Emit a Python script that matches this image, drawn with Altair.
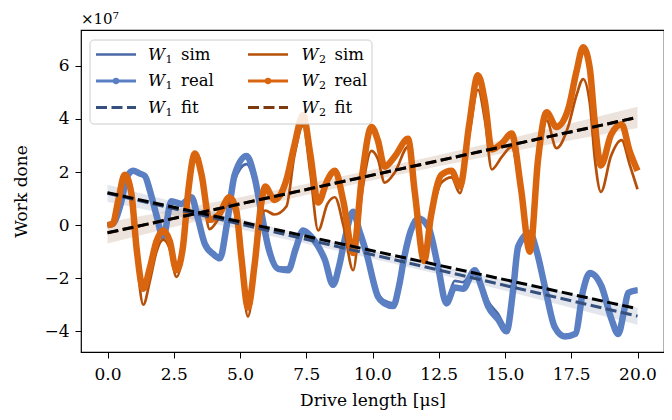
import altair as alt
import pandas as pd

# ---------------- data (work done in units of 1e7) ----------------
w1_x = [0.0, 0.2, 0.5, 0.75, 0.97, 1.2, 1.41, 1.6, 1.84, 2.1, 2.41, 2.79, 3.17, 3.4, 3.67,
        4.0, 4.24, 4.5, 4.8, 5.25, 5.55, 5.81, 6.06, 6.44, 6.82, 7.1, 7.38, 7.7, 7.95, 8.2,
        8.51, 8.75, 8.95, 9.27, 9.5, 9.77, 10.21, 10.46, 10.78, 11.0, 11.2, 11.45, 11.72, 12.1,
        12.47, 12.79, 13.1, 13.42, 13.86, 14.1, 14.36, 14.74, 15.06, 15.3, 15.5, 15.94, 16.2,
        16.5, 16.88, 17.26, 17.65, 17.95, 18.2, 18.64, 19.02, 19.27, 19.5, 19.65, 20.0]
w1_real = [0.0, 0.05, 0.8, 1.85, 2.05, 1.95, 1.85, 1.3, 0.4, -0.45, 0.9, 0.8, 1.05, 0.3, -0.7,
           -1.1, -1.25, 0.0, 1.9, 2.6, 1.8, 0.45, -0.8, -1.65, -1.7, -0.9, -0.2, -0.45, -0.8, -1.3,
           -2.25, -1.5, -0.55, 0.5, -0.2, -1.05, -2.7, -2.95, -3.05, -2.3, -1.2, -0.2, 0.25, -0.05,
           -1.55, -2.95, -2.35, -2.4, -1.7, -2.3, -3.05, -3.55, -4.0, -2.5, -0.8, -0.3, -1.0,
           -2.3, -3.85, -4.2, -4.1, -2.45, -1.8, -2.3, -3.55, -4.1, -3.2, -2.55, -2.45]
w1_sim = [0.0, 0.05, 0.78, 1.8, 2.0, 1.9, 1.8, 1.25, 0.4, -0.4, 0.85, 0.75, 1.0, 0.3, -0.65,
          -1.05, -1.2, -0.05, 1.7, 2.3, 1.6, 0.35, -0.8, -1.6, -1.6, -0.85, -0.2, -0.45, -0.8, -1.3,
          -2.2, -1.45, -0.55, 0.45, -0.2, -1.0, -2.6, -2.85, -2.95, -2.2, -1.15, -0.2, 0.2, -0.05,
          -1.5, -2.85, -2.1, -2.15, -1.65, -2.15, -2.85, -3.35, -3.85, -2.45, -0.8, -0.3, -1.0,
          -2.3, -3.8, -4.15, -4.05, -2.45, -1.8, -2.3, -3.5, -4.05, -3.15, -2.55, -2.4]

w2_x = [0.0, 0.2, 0.4, 0.65, 0.9, 1.1, 1.35, 1.6, 1.85, 2.1, 2.35, 2.6, 2.85, 3.05, 3.3, 3.55,
        3.85, 4.2, 4.6, 4.85, 5.05, 5.3, 5.55, 5.8, 5.95, 6.3, 6.75, 7.05, 7.38, 7.65, 7.95, 8.3,
        8.58, 8.9, 9.27, 9.6, 9.96, 10.2, 10.46, 10.85, 11.34, 11.6, 11.95, 12.2, 12.6, 12.98,
        13.3, 13.65, 13.98, 14.25, 14.5, 14.9, 15.25, 15.6, 15.94, 16.25, 16.57, 16.94, 17.38,
        17.7, 17.95, 18.2, 18.39, 18.62, 19.0, 19.4, 19.7, 20.0]
w2_real = [0.0, 0.05, 0.9, 1.9, 1.2, -0.9, -2.4, -1.6, -0.6, -0.2, -0.6, -1.7, -0.8, 1.3, 2.7, 1.9,
           0.2, 0.4, 1.05, 0.6, -1.2, -3.1, -1.5, 0.8, 1.45, 0.95, 1.7, 3.0, 4.15, 2.7, 0.85, 1.7,
           2.05, 0.9, -1.05, 1.8, 3.7, 3.2, 2.2, 2.6, 3.25, 1.2, -1.35, 0.3, 1.9, 2.05,
           1.45, 3.8, 5.65, 4.6, 2.85, 3.1, 3.45, 1.4, -1.0, 2.5, 4.25, 3.7, 4.35,
           5.8, 6.7, 5.9, 3.85, 2.25, 3.4, 3.8, 2.8, 2.05]
w2_sim = [0.0, 0.05, 0.85, 1.85, 1.0, -1.2, -3.0, -2.1, -1.0, -0.55, -0.9, -1.95, -1.0, 1.2, 2.65, 1.7,
          -0.15, 0.25, 0.85, 0.3, -1.5, -3.45, -1.8, 0.3, 0.55, 0.4, 0.7, 2.6, 3.75, 2.0, -0.2, 0.8,
          1.05, 0.0, -1.7, 1.2, 2.8, 2.5, 1.6, 2.0, 2.95, 1.0, -1.2, 0.2, 1.6, 1.8,
          1.2, 3.4, 5.1, 3.9, 2.1, 2.6, 2.95, 1.2, -0.7, 2.2, 3.95, 2.9, 3.7,
          4.9, 5.5, 4.6, 2.5, 1.25, 2.6, 3.2, 2.3, 1.35]

fit_x = [0.0, 20.0]
w1_fit = [1.2, -3.43]
w1_fit_black = [1.22, -3.15]
w2_fit = [-0.29, 4.06]
w2_fit_black = [-0.29, 4.06]

band_x = [0.0, 2.5, 5.0, 7.5, 10.0, 12.5, 15.0, 17.5, 20.0]
w1_lo = [0.88, 0.36, -0.16, -0.70, -1.27, -1.85, -2.47, -3.11, -3.75]
w1_hi = [1.52, 0.88, 0.24, -0.38, -0.97, -1.53, -2.07, -2.59, -3.11]
w2_lo = [-0.69, -0.07, 0.55, 1.13, 1.69, 2.22, 2.72, 3.20, 3.66]
w2_hi = [0.11, 0.57, 1.05, 1.55, 2.09, 2.64, 3.22, 3.84, 4.46]

x_ticks = [0.0, 2.5, 5.0, 7.5, 10.0, 12.5, 15.0, 17.5, 20.0]
y_ticks = [-4, -2, 0, 2, 4, 6]

legend_names = ["sim", "real", "fit"]

# ---------------- styling ----------------
FONT = "DejaVu Serif"
C_W1_SIM = "#4a68a6"
C_W1_REAL = "#5a7fc3"
C_W1_FIT = "#36507e"
C_W2_SIM = "#b65009"
C_W2_REAL = "#d9650f"
C_W2_FIT = "#7c3a0e"
DASH = [11, 4.5]

xs = alt.Scale(domain=[-1, 21], nice=False, zero=False)
ys = alt.Scale(domain=[-4.78, 7.35], nice=False, zero=False)
xaxis = alt.Axis(values=x_ticks, format=".1f", title="Drive length [μs]", grid=False,
                 domain=False, tickColor="black", tickSize=6, tickWidth=1,
                 labelPadding=8, titlePadding=10)
yaxis = alt.Axis(values=y_ticks, format="d", title="Work done", grid=False,
                 domain=False, tickColor="black", tickSize=6, tickWidth=1,
                 labelPadding=6, titlePadding=13,
                 labelExpr="replace(datum.label, '-', '\u2212')")
X = alt.X("x:Q", scale=xs, axis=xaxis)


def Y(field):
    return alt.Y(f"{field}:Q", scale=ys, axis=yaxis)


def curve(xv, yv, color, width, dash=None):
    df = pd.DataFrame({"x": xv, "y": yv})
    kw = dict(color=color, strokeWidth=width, interpolate="monotone", clip=True)
    if dash:
        kw["strokeDash"] = dash
    return alt.Chart(df).mark_line(**kw).encode(x=X, y=Y("y"))


def band(lo, hi, color):
    df = pd.DataFrame({"x": band_x, "lo": lo, "hi": hi})
    return alt.Chart(df).mark_area(color=color, opacity=0.14).encode(
        x=X, y=Y("lo"), y2="hi")


layers = [
    band(w1_lo, w1_hi, C_W1_FIT),
    band(w2_lo, w2_hi, C_W2_FIT),
    curve(w1_x, w1_sim, C_W1_SIM, 2.7),
    curve(w1_x, w1_real, C_W1_REAL, 6.5),
    curve(w2_x, w2_sim, C_W2_SIM, 2.7),
    curve(w2_x, w2_real, C_W2_REAL, 6.5),
    curve(fit_x, w1_fit, C_W1_FIT, 3, DASH),
    curve(fit_x, w2_fit, C_W2_FIT, 3, DASH),
    curve(fit_x, w1_fit_black, "black", 3, DASH),
    curve(fit_x, w2_fit_black, "black", 3, DASH),
]

one = alt.Data(values=[{"k": 0}])

# legend box
layers.append(alt.Chart(one).mark_rect(fill="white", fillOpacity=0.85, stroke="#cccccc",
                                       strokeWidth=1, cornerRadius=4).encode(
    x=alt.value(9), x2=alt.value(291), y=alt.value(10), y2=alt.value(94)))

rows_y = [24.5, 51, 77.5]
cols = [(15, 67, "1", [C_W1_SIM, C_W1_REAL, C_W1_FIT]),
        (167, 220.5, "2", [C_W2_SIM, C_W2_REAL, C_W2_FIT])]
for sx, tx, sub, colors in cols:
    for i, name in enumerate(legend_names):
        ry = rows_y[i]
        kw = dict(color=colors[i], strokeWidth=3 if i else 2.7)
        if i == 2:
            kw["strokeDash"] = DASH
        layers.append(alt.Chart(one).mark_rule(**kw).encode(
            x=alt.value(sx), x2=alt.value(sx + 40), y=alt.value(ry)))
        if i == 1:
            layers.append(alt.Chart(one).mark_point(filled=True, opacity=1, size=40,
                                                    color=colors[i]).encode(
                x=alt.value(sx + 20), y=alt.value(ry)))
        layers.append(alt.Chart(one).mark_text(text="W", font=FONT, fontStyle="italic",
                                               fontSize=16.5, align="left", baseline="middle",
                                               color="black").encode(
            x=alt.value(tx), y=alt.value(ry)))
        layers.append(alt.Chart(one).mark_text(text=sub, font=FONT, fontSize=11, align="left",
                                               baseline="middle", color="black").encode(
            x=alt.value(tx + 17.5), y=alt.value(ry + 5)))
        layers.append(alt.Chart(one).mark_text(text=name, font=FONT, fontSize=16.5, align="left",
                                               baseline="middle", color="black").encode(
            x=alt.value(tx + 33), y=alt.value(ry)))

# offset text
layers.append(alt.Chart(one).mark_text(text="\u00d710\u2077", font=FONT, fontSize=15,
                                       align="left", baseline="middle", color="black").encode(
    x=alt.value(0), y=alt.value(-11)))

chart = alt.layer(*layers).properties(
    width=583, height=322,
    padding={"left": 73, "top": 22, "right": 0, "bottom": 60},
    autosize=alt.AutoSizeParams(type="none"),
).configure_view(stroke="black", strokeWidth=1.2).configure_axis(
    labelFont=FONT, titleFont=FONT, labelFontSize=17, titleFontSize=17,
    labelColor="black", titleColor="black", titleFontWeight="normal",
)

chart.save("out.html", embed_options={"renderer": "svg", "actions": False})
